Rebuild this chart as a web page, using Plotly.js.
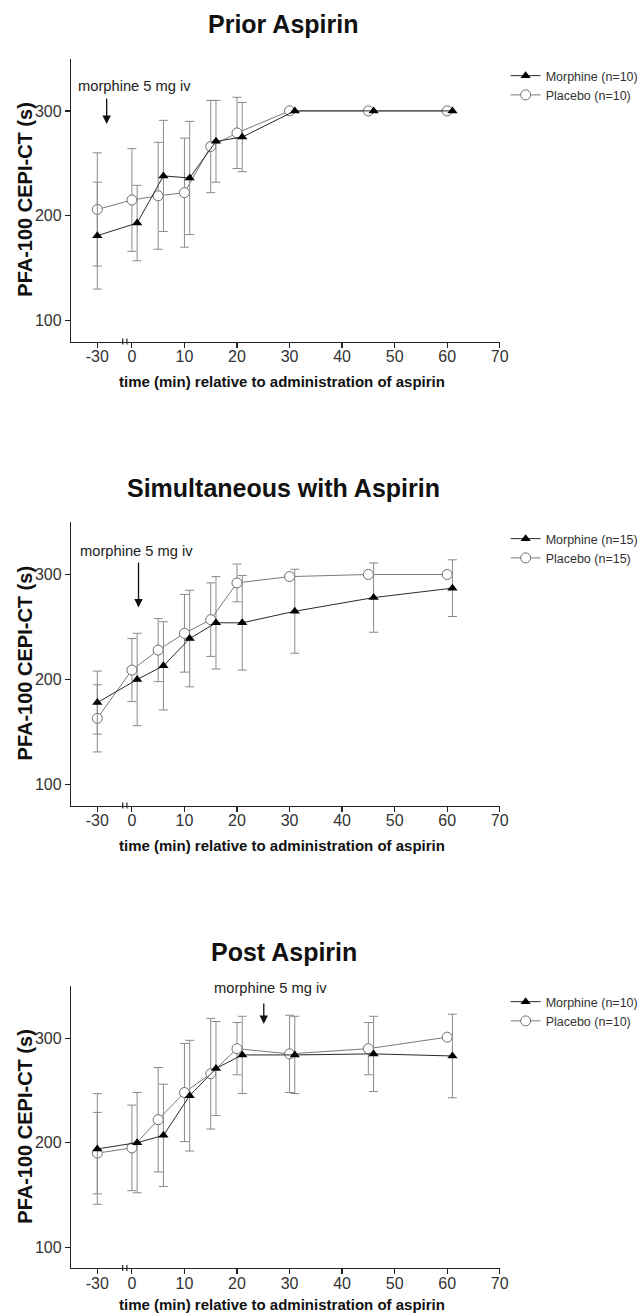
<!DOCTYPE html>
<html>
<head>
<meta charset="utf-8">
<script src="https://cdn.plot.ly/plotly-3.0.1.min.js"></script>
<style>html,body{margin:0;padding:0;background:#fff;}#chart{width:644px;height:1316px;}</style>
</head>
<body>
<div id="chart"></div>
<script>
// ---------------- DATA ----------------
const TIME_PLACEBO  = [-30, 0, 5, 10, 15, 20, 30, 45, 60];
const TIME_MORPHINE = [-30, 1, 6, 11, 16, 21, 31, 46, 61];

const PANEL_TITLES = ["Prior Aspirin", "Simultaneous with Aspirin", "Post Aspirin"];
const MORPHINE_NAMES = ["Morphine (n=10)", "Morphine (n=15)", "Morphine (n=10)"];
const PLACEBO_NAMES  = ["Placebo (n=10)", "Placebo (n=15)", "Placebo (n=10)"];

// Prior Aspirin
const P1_PLACEBO_MEAN  = [206, 215, 219, 222, 266, 279, 300, 300, 300];
const P1_PLACEBO_SD    = [54, 49, 51, 52, 44, 34, null, null, null];
const P1_MORPHINE_MEAN = [181, 193, 238, 236, 271, 275, 300, 300, 300];
const P1_MORPHINE_SD   = [51, 36, 53, 54, 39, 33, null, null, null];

// Simultaneous with Aspirin
const P2_PLACEBO_MEAN  = [163, 209, 228, 244, 257, 292, 298, 300, 300];
const P2_PLACEBO_SD    = [32, 30, 30, 37, 35, 18, null, null, null];
const P2_MORPHINE_MEAN = [178, 200, 213, 239, 254, 254, 265, 278, 287];
const P2_MORPHINE_SD   = [30, 44, 42, 46, 44, 45, 40, 33, 27];

// Post Aspirin
const P3_PLACEBO_MEAN  = [190, 195, 222, 248, 266, 290, 285, 290, 301];
const P3_PLACEBO_SD    = [39, 41, 50, 47, 53, 25, 37, 25, null];
const P3_MORPHINE_MEAN = [194, 200, 207, 245, 271, 284, 284, 285, 283];
const P3_MORPHINE_SD   = [53, 48, 49, 53, 45, 37, 37, 36, 40];

const X_TICK_VALUES = [-30, 0, 10, 20, 30, 40, 50, 60, 70];
const X_TICK_LABELS = ["-30", "0", "10", "20", "30", "40", "50", "60", "70"];
const Y_TICK_VALUES = [100, 200, 300];

const Y_LABEL = "PFA-100 CEPI-CT (s)";
const X_LABEL = "time (min) relative to administration of aspirin";
const ANNOT_TEXT = "morphine 5 mg iv";

// ---------------- BROKEN AXIS ----------------
// the -30 segment is drawn closer to 0 (axis break)
const BREAK_SHIFT = 23.42;
function axisPos(t) { return t < 0 ? t + BREAK_SHIFT : t; }

// ---------------- LAYOUT HELPERS ----------------
const W = 644, H = 1316;
const FONT = "Liberation Sans, Arial, sans-serif";
function py(px) { return 1 - px / H; }
const X_DOMAIN = [72 / W, 506 / W];
const PANELS = [
  { top: 58.5, bottom: 341.5, legendTop: 61, titleY: 24, xTitleGap: 40,
    pm: P1_PLACEBO_MEAN, ps: P1_PLACEBO_SD, mm: P1_MORPHINE_MEAN, ms: P1_MORPHINE_SD,
    arrowX: -4.8, arrowY: 287.6, arrowLen: 27, textX: 0.5, textY: 323.8 },
  { top: 522, bottom: 805.5, legendTop: 524, titleY: 488, xTitleGap: 40,
    pm: P2_PLACEBO_MEAN, ps: P2_PLACEBO_SD, mm: P2_MORPHINE_MEAN, ms: P2_MORPHINE_SD,
    arrowX: 1.26, arrowY: 268.5, arrowLen: 46.6, textX: 0.9, textY: 322.5 },
  { top: 986, bottom: 1268, legendTop: 987, titleY: 951.7, xTitleGap: 36,
    pm: P3_PLACEBO_MEAN, ps: P3_PLACEBO_SD, mm: P3_MORPHINE_MEAN, ms: P3_MORPHINE_SD,
    arrowX: 25.1, arrowY: 313.7, arrowLen: 22, textX: 26.4, textY: 347.9 }
];

const nanify = a => a.map(v => (v === null ? NaN : v));

const traces = [];
const layout = {
  width: W, height: H,
  margin: { l: 0, r: 0, t: 0, b: 0 },
  paper_bgcolor: "#fff", plot_bgcolor: "#fff",
  font: { family: FONT, color: "#333" },
  showlegend: true,
  annotations: [], shapes: []
};

PANELS.forEach((p, i) => {
  const sfx = i === 0 ? "" : String(i + 1);
  const xa = "x" + sfx, ya = "y" + sfx, lg = "legend" + sfx;

  // placebo first (drawn underneath), morphine on top
  traces.push({
    type: "scatter", mode: "lines+markers",
    x: TIME_PLACEBO.map(axisPos), y: p.pm,
    name: PLACEBO_NAMES[i], xaxis: xa, yaxis: ya, legend: lg, legendrank: 2,
    line: { color: "#7a7a7a", width: 1 },
    marker: { symbol: "circle", size: 10, color: "#ffffff", line: { color: "#6e6e6e", width: 1 } },
    error_y: { type: "data", array: nanify(p.ps), visible: true, color: "#8a8a8a", thickness: 1, width: 4.5 },
    cliponaxis: false, hoverinfo: "skip"
  });
  traces.push({
    type: "scatter", mode: "lines+markers",
    x: TIME_MORPHINE.map(axisPos), y: p.mm,
    name: MORPHINE_NAMES[i], xaxis: xa, yaxis: ya, legend: lg, legendrank: 1,
    line: { color: "#2a2a2a", width: 1 },
    marker: { symbol: "triangle-up", size: 9, color: "#000000" },
    error_y: { type: "data", array: nanify(p.ms), visible: true, color: "#8a8a8a", thickness: 1, width: 4.5 },
    cliponaxis: false, hoverinfo: "skip"
  });

  layout["xaxis" + sfx] = {
    domain: X_DOMAIN, anchor: ya, range: [-11.57, 70],
    tickmode: "array", tickvals: X_TICK_VALUES.map(axisPos), ticktext: X_TICK_LABELS,
    ticks: "outside", ticklen: 5, tickwidth: 1.2, tickcolor: "#222",
    ticklabelstandoff: -5,
    showline: true, linecolor: "#222", linewidth: 1.3,
    showgrid: false, zeroline: false,
    tickfont: { family: FONT, size: 16, color: "#333" }
  };
  layout["yaxis" + sfx] = {
    domain: [py(p.bottom), py(p.top)], anchor: xa, range: [80, 350],
    tickmode: "array", tickvals: Y_TICK_VALUES,
    ticks: "outside", ticklen: 5, tickwidth: 1.2, tickcolor: "#222",
    showline: true, linecolor: "#222", linewidth: 1.3,
    showgrid: false, zeroline: false,
    tickfont: { family: FONT, size: 16, color: "#333" }
  };
  layout[lg] = {
    x: 512 / W, xanchor: "left", y: py(p.legendTop), yanchor: "top",
    bgcolor: "rgba(0,0,0,0)", borderwidth: 0,
    font: { family: FONT, size: 12.5, color: "#333" },
    tracegroupgap: 0
  };

  // panel title
  layout.annotations.push({
    xref: "paper", yref: "paper", x: 287.5 / W, y: py(p.titleY),
    xanchor: "center", yanchor: "middle", showarrow: false,
    text: "<b>" + PANEL_TITLES[i] + "</b>",
    font: { family: FONT, size: 25, color: "#111" }
  });
  // y axis title
  layout.annotations.push({
    xref: "paper", yref: "paper", x: 25 / W, y: py((p.top + p.bottom) / 2),
    xanchor: "center", yanchor: "middle", showarrow: false, textangle: -90,
    text: "<b>" + Y_LABEL + "</b>",
    font: { family: FONT, size: 20, color: "#111" }
  });
  // x axis title
  layout.annotations.push({
    xref: "paper", yref: "paper", x: 285.7 / W, y: py(p.bottom + p.xTitleGap),
    xanchor: "center", yanchor: "middle", showarrow: false,
    text: "<b>" + X_LABEL + "</b>",
    font: { family: FONT, size: 15, color: "#111" }
  });
  // morphine label and arrow
  layout.annotations.push({
    xref: xa, yref: ya, x: p.textX, y: p.textY,
    xanchor: "center", yanchor: "middle", showarrow: false,
    text: ANNOT_TEXT, font: { family: FONT, size: 14.7, color: "#222" }
  });
  layout.annotations.push({
    xref: xa, yref: ya, x: p.arrowX, y: p.arrowY,
    ax: 0, ay: -p.arrowLen, showarrow: true, text: "",
    arrowhead: 2, arrowsize: 1.3, arrowwidth: 1.3, arrowcolor: "#111", standoff: 0
  });

  // axis break marks
  [-1.75, -0.95].forEach(bx => {
    layout.shapes.push({
      type: "line", xref: xa, yref: ya + " domain",
      x0: bx, x1: bx, y0: -0.011, y1: 0.011,
      line: { color: "#222", width: 1.2 }
    });
  });
});

Plotly.newPlot("chart", traces, layout, { displayModeBar: false, staticPlot: true });
</script>
</body>
</html>
